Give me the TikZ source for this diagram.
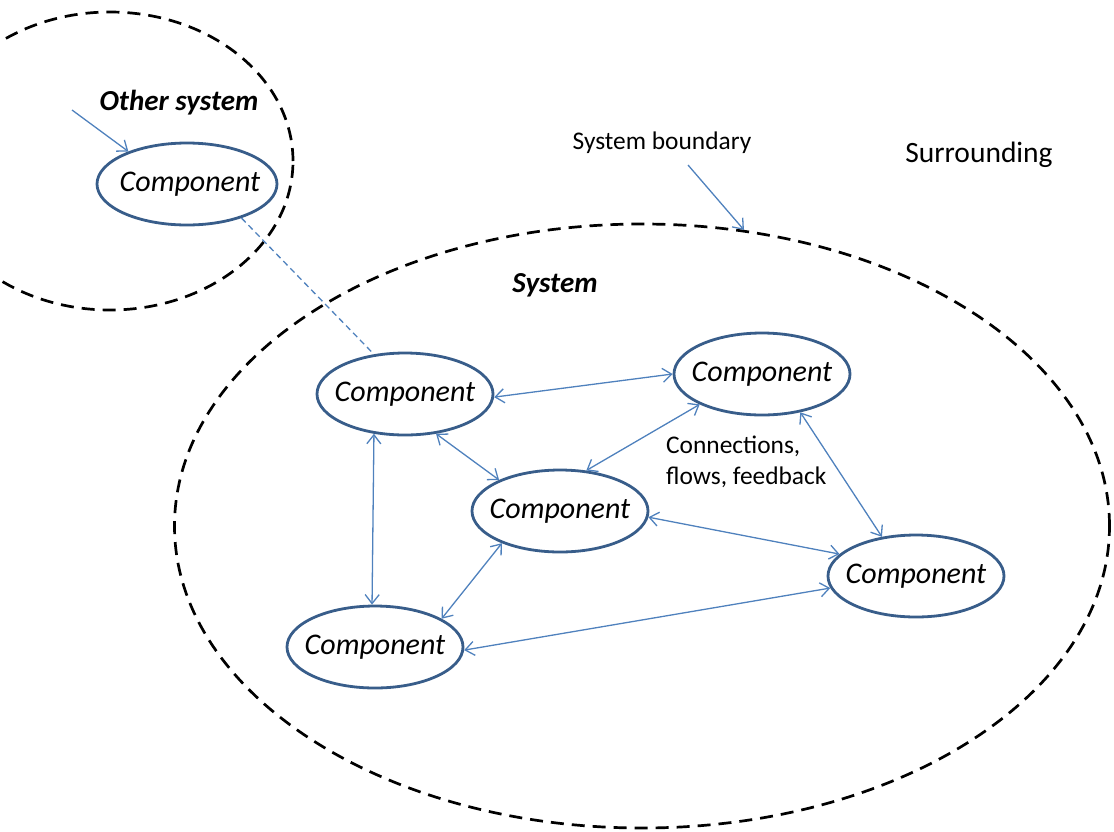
\documentclass[tikz,border=0pt]{standalone}
\usepackage{fontspec}
\setmainfont{Carlito}
\usetikzlibrary{shapes.geometric,arrows.meta}
\definecolor{compborder}{RGB}{56,93,138}
\definecolor{linkblue}{RGB}{79,129,189}
\newcommand{\ctext}[1]{\makebox[0pt]{#1}}
\tikzset{
  comp/.style={ellipse, draw=compborder, line width=2.8pt, fill=white, inner sep=0pt,
    minimum width=176pt, minimum height=82pt, font=\fontsize{30}{34}\selectfont\itshape},
  boundary/.style={ellipse, draw=black, line width=2.7pt, dash pattern=on 13pt off 8pt, inner sep=0pt},
  link/.style={draw=linkblue, line width=1.3pt, {Straight Barb[length=9pt,width=14pt,line width=1.3pt]}-{Straight Barb[length=9pt,width=14pt,line width=1.3pt]}},
  onelink/.style={draw=linkblue, line width=1.3pt, -{Straight Barb[length=9pt,width=14pt,line width=1.3pt]}},
  dashlink/.style={draw=linkblue, line width=1.3pt, dash pattern=on 6pt off 4pt},
  lbl/.style={font=\fontsize{25.4}{31}\selectfont, align=left, inner sep=0pt},
  title/.style={font=\fontsize{29}{33}\selectfont\bfseries\itshape, inner sep=0pt}
}
\begin{document}
\begin{tikzpicture}[x=1pt,y=-1pt]
\useasboundingbox (0,0) rectangle (1114,831);
\clip (0,0) rectangle (1114,831);
% boundaries
\node[boundary, minimum width=366pt, minimum height=298pt] (other) at (110,161) {};
\node[boundary, minimum width=935pt, minimum height=604pt] (sys) at (642,526) {};
% components
\node[comp, minimum width=180pt] (oc) at (187,184) {\ctext{\hspace*{6pt}Component}};
\node[comp] (c1) at (405,394) {\ctext{Component}};
\node[comp] (c2) at (762,374) {\ctext{Component}};
\node[comp] (c3) at (560,511) {\ctext{Component}};
\node[comp] (c4) at (916,576) {\ctext{Component}};
\node[comp] (c5) at (375,647) {\ctext{Component}};
% texts
\node[title] (othertitle) at (179,103) {Other system};
\node[title] (systitle) at (555,285) {System};
\node[lbl] (sb) at (662,143) {System boundary};
\node[lbl, font=\fontsize{29.5}{33}\selectfont] (sur) at (979,155) {Surrounding};
\node[lbl, anchor=west] (conn) at (666,462) {Connections,\\flows, feedback};
% connectors
\coordinate (inflow) at (72,110);
\coordinate (sbstart) at (688,165);
\draw[onelink] (inflow) -- (oc.151);
\draw[onelink] (sbstart) -- (sys.71.5);
\draw[dashlink] (oc.328) -- (c1.128);
\draw[link] (c1.358) -- (c2.180);
\draw[link] (c1.308) -- (c3.153);
\draw[link] (c2.206.6) -- (c3.57);
\draw[link] (c1.232.5) -- (c5.94);
\draw[link] (c3.209.5) -- (c5.23.2);
\draw[link] (c3.356) -- (c4.164.6);
\draw[link] (c2.315.7) -- (c4.131.5);
\draw[link] (c5.358) -- (c4.188.6);
\end{tikzpicture}
\end{document}
